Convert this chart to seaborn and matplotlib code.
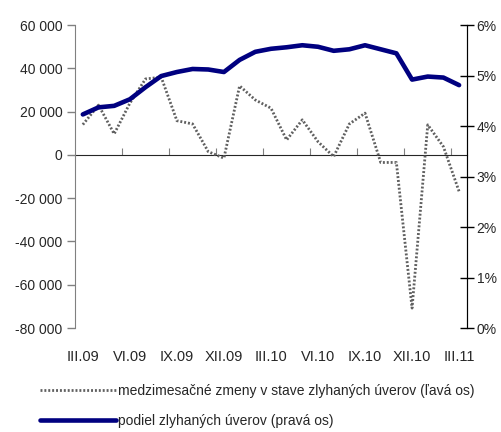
import numpy as np
import pandas as pd
import matplotlib
matplotlib.use('Agg')
import matplotlib.pyplot as plt
import seaborn as sns
from matplotlib.ticker import FuncFormatter

sns.set_style('white')
plt.rcParams['font.family'] = ['Liberation Sans', 'DejaVu Sans']
plt.rcParams['font.size'] = 10

# -------------------------------
# data (mar 2009 - mar 2011)
# -------------------------------
months = ['III.09', 'IV.09', 'V.09', 'VI.09', 'VII.09', 'VIII.09', 'IX.09', 'X.09', 'XI.09',
          'XII.09', 'I.10', 'II.10', 'III.10', 'IV.10', 'V.10', 'VI.10', 'VII.10', 'VIII.10',
          'IX.10', 'X.10', 'XI.10', 'XII.10', 'I.11', 'II.11', 'III.11']
# medzimesacne zmeny (lava os)
zmeny = [14000, 23000, 9700, 23900, 35100, 35900, 15800, 14300, 1500, -1500,
         31900, 25400, 21600, 6900, 16200, 6100, -800, 14300, 19300, -3500,
         -3500, -70800, 13900, 3800, -16900]
# podiel zlyhanych uverov v % (prava os)
podiel = [4.23, 4.37, 4.40, 4.53, 4.77, 4.99, 5.07, 5.13, 5.12, 5.07,
          5.31, 5.47, 5.53, 5.56, 5.60, 5.57, 5.49, 5.52, 5.60, 5.52,
          5.44, 4.92, 4.98, 4.96, 4.81]

lbl_zmeny = 'medzimesačné zmeny v stave zlyhaných úverov (ľavá os)'
lbl_podiel = 'podiel zlyhaných úverov (pravá os)'

df = pd.DataFrame({'idx': np.arange(len(months)), 'mesiac': months,
                   'zmeny': zmeny, 'podiel': podiel})

# -------------------------------
# graf
# -------------------------------
fig = plt.figure(figsize=(5.01, 4.32), dpi=100)
ax = fig.add_axes([0.1497, 0.2407, 0.932 - 0.1497, 0.942 - 0.2407])
ax2 = ax.twinx()

sns.lineplot(data=df, x='idx', y='zmeny', ax=ax, color='#606060', lw=2.0,
             linestyle=(0, (0.7, 0.7)), legend=False)
sns.lineplot(data=df, x='idx', y='podiel', ax=ax2, color='#000080', lw=3.3,
             legend=False)

n = len(months)
ax.set_xlim(-0.5, n - 0.5)
ax.set_ylim(-80000, 60000)
ax2.set_ylim(0, 6)
ax.set_xlabel('')
ax.set_ylabel('')
ax2.set_ylabel('')

# lava os
ax.set_yticks(np.arange(-80000, 60001, 20000))
ax.yaxis.set_major_formatter(FuncFormatter(lambda v, p: f'{int(v):,}'.replace(',', ' ')))
ax.tick_params(axis='y', direction='out', length=6, width=1, color='#808080', pad=3,
               left=True, labelsize=10)
# prava os
ax2.set_yticks(np.arange(0, 7, 1))
ax2.yaxis.set_major_formatter(FuncFormatter(lambda v, p: f'{int(v)}%'))
ax2.tick_params(axis='y', direction='inout', length=10, width=1, color='black', pad=2,
                right=True, labelsize=10)

# popisky osi x (kazdy treti mesiac)
ax.set_xticks(np.arange(0, n, 3))
ax.set_xticklabels(months[::3])
ax.tick_params(axis='x', length=0, pad=16, labelsize=10.5)

for a in (ax, ax2):
    a.spines['top'].set_visible(False)
    a.spines['bottom'].set_visible(False)
ax.spines['left'].set_color('#808080')
ax2.spines['left'].set_visible(False)
ax2.spines['right'].set_color('black')

# nulova ciara s ciarkami medzi stvrtrokmi
y0 = (0 - ax.get_ylim()[0]) / (ax.get_ylim()[1] - ax.get_ylim()[0])
sec = ax.secondary_xaxis(y0)
sec.set_xticks(np.arange(2.5, n - 1, 3))
sec.tick_params(axis='x', direction='out', length=5, color='#808080', labelbottom=False)
sec.spines['bottom'].set_color('#808080')
sec.set_xticklabels([])
ax.grid(False)
ax2.grid(False)

# legenda
handles = [ax.get_lines()[0], ax2.get_lines()[0]]
fig.legend(handles, [lbl_zmeny, lbl_podiel], loc='upper left',
           bbox_to_anchor=(0.08, 0.112), frameon=False, fontsize=10,
           handlelength=5.5, handletextpad=0.1, labelspacing=1.17,
           borderaxespad=0, borderpad=0)

fig.savefig('out.png', dpi=100)
